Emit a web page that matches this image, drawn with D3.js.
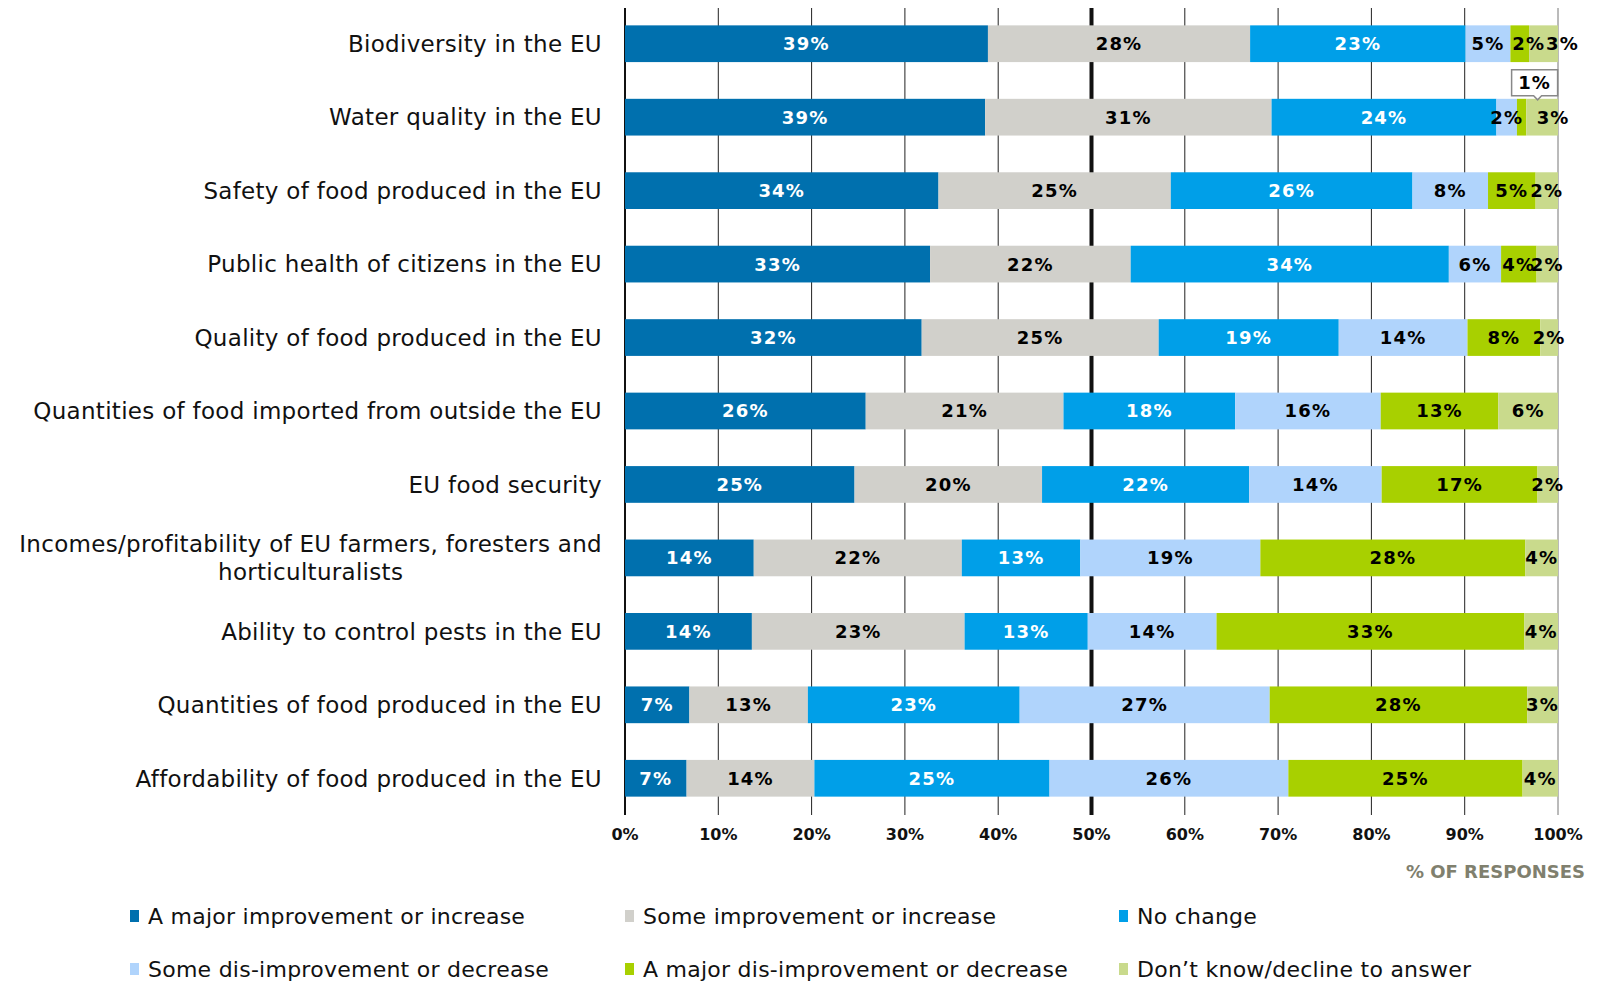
<!DOCTYPE html>
<html>
<head>
<meta charset="UTF-8">
<title>Expected impacts - % of responses</title>
<script src="https://d3js.org/d3.v7.min.js"></script>
<style>
  body { margin: 0; background: #fff; }
  svg text { font-family: "DejaVu Sans", Verdana, sans-serif; }
</style>
</head>
<body>
<svg id="chart" width="1598" height="982"></svg>
<script>
// categories, top to bottom
var categories = [
  "Biodiversity in the EU",
  "Water quality in the EU",
  "Safety of food produced in the EU",
  "Public health of citizens in the EU",
  "Quality of food produced in the EU",
  "Quantities of food imported from outside the EU",
  "EU food security",
  "Incomes/profitability of EU farmers, foresters and horticulturalists",
  "Ability to control pests in the EU",
  "Quantities of food produced in the EU",
  "Affordability of food produced in the EU"
];

var seriesNames = [
  "A major improvement or increase",
  "Some improvement or increase",
  "No change",
  "Some dis-improvement or decrease",
  "A major dis-improvement or decrease",
  "Don\u2019t know/decline to answer"
];

// % of responses per series (same order as categories)
var majorImprovement = [38.9, 38.6, 33.6, 32.7, 31.8, 25.8, 24.6, 13.8, 13.6, 6.9, 6.6];
var someImprovement  = [28.1, 30.7, 24.9, 21.5, 25.4, 21.2, 20.1, 22.3, 22.8, 12.7, 13.7];
var noChange         = [23.1, 24.1, 25.9, 34.1, 19.3, 18.4, 22.2, 12.7, 13.2, 22.7, 25.2];
var someDecrease     = [4.8, 2.2, 8.1, 5.6, 13.8, 15.6, 14.2, 19.3, 13.8, 26.8, 25.6];
var majorDecrease    = [2.0, 1.0, 5.1, 3.8, 7.8, 12.6, 16.7, 28.4, 33.0, 27.6, 25.1];
var dontKnow         = [3.1, 3.4, 2.4, 2.3, 1.9, 6.4, 2.2, 3.5, 3.6, 3.3, 3.8];

var tickValues = [0, 10, 20, 30, 40, 50, 60, 70, 80, 90, 100];

var colors = ["#0070ae", "#d1d0cb", "#009fe8", "#b0d4fc", "#a8d000", "#c9da8c"];
var labelColors = ["#fff", "#000", "#fff", "#000", "#000", "#000"];

var allSeries = [majorImprovement, someImprovement, noChange, someDecrease, majorDecrease, dontKnow];

// labels that were moved by hand in the original (row-series : px)
var labelNudge = { "0-4": 9, "0-5": 19, "1-5": 11 };

var svg = d3.select("#chart");

var x = d3.scaleLinear().domain([0, 100]).range([625, 1558]);
var y = d3.scaleBand().domain(categories).range([7, 815]).paddingInner(0.5).paddingOuter(0.25);

// build stacked rows
var rows = categories.map(function(c, i) {
  var r = { cat: c };
  seriesNames.forEach(function(s, j) { r[s] = allSeries[j][i]; });
  return r;
});
var stacked = d3.stack().keys(seriesNames)(rows);

// gridlines (behind the bars)
var grid = svg.append("g");
tickValues.forEach(function(t) {
  var w = 1, col = "#222";
  if (t === 50) { w = 4; col = "#111"; }
  if (t === 0) { w = 2; col = "#111"; }
  if (t === 100) { col = "#777"; }
  grid.append("line")
    .attr("x1", x(t)).attr("x2", x(t))
    .attr("y1", 8).attr("y2", 815)
    .attr("stroke", col).attr("stroke-width", w);
});

// bars
var layers = svg.append("g").selectAll("g")
  .data(stacked)
  .enter().append("g")
  .attr("fill", function(d, i) { return colors[i]; });

layers.selectAll("rect")
  .data(function(d) { return d; })
  .enter().append("rect")
  .attr("x", function(d) { return x(d[0]); })
  .attr("y", function(d) { return y(d.data.cat); })
  .attr("width", function(d) { return x(d[1]) - x(d[0]); })
  .attr("height", y.bandwidth());

// value labels
stacked.forEach(function(layer, j) {
  layer.forEach(function(d, i) {
    var v = Math.round(d[1] - d[0]);
    var cx = (x(d[0]) + x(d[1])) / 2 + (labelNudge[i + "-" + j] || 0);
    var cy = y(d.data.cat) + y.bandwidth() / 2;
    if (v < 2) {
      // callout box above the bar for tiny segments
      var bx = cx + 13, by = y(d.data.cat) - 16;
      svg.append("path")
        .attr("d", "M" + (bx - 23) + "," + (by - 13) + "h46v26h-16l-4,4l-4,-4h-22z")
        .attr("fill", "#fff").attr("stroke", "#888").attr("stroke-width", 1.5);
      svg.append("text")
        .attr("x", bx).attr("y", by)
        .attr("dy", "0.36em")
        .attr("text-anchor", "middle")
        .attr("font-size", 18).attr("font-weight", "bold")
        .attr("letter-spacing", 1.2)
        .attr("fill", "#000")
        .text(v + "%");
      return;
    }
    svg.append("text")
      .attr("x", cx).attr("y", cy)
      .attr("dy", "0.36em")
      .attr("text-anchor", "middle")
      .attr("font-size", 18).attr("font-weight", "bold")
      .attr("letter-spacing", 1.2)
      .attr("fill", labelColors[j])
      .text(v + "%");
  });
});

// category labels
var catLabels = svg.append("g");
categories.forEach(function(c) {
  var cy = y(c) + y.bandwidth() / 2;
  var t = catLabels.append("text")
    .attr("x", 602)
    .attr("text-anchor", "end")
    .attr("font-size", 23)
    .attr("letter-spacing", 0.3)
    .attr("fill", "#111");
  if (c.length > 50) {
    // split long label on two lines, second line centred under the first
    var idx = c.lastIndexOf(" ");
    t.attr("y", cy - 14).attr("dy", "0.36em").text(c.slice(0, idx));
    var w = t.node().getComputedTextLength();
    catLabels.append("text")
      .attr("x", 602 - w / 2).attr("y", cy + 14)
      .attr("dy", "0.36em")
      .attr("text-anchor", "middle")
      .attr("font-size", 23)
      .attr("letter-spacing", 0.3)
      .attr("fill", "#111")
      .text(c.slice(idx + 1));
  } else {
    t.attr("y", cy).attr("dy", "0.36em").text(c);
  }
});

// axis tick labels
var axis = svg.append("g");
tickValues.forEach(function(t) {
  axis.append("text")
    .attr("x", x(t)).attr("y", 834)
    .attr("dy", "0.36em")
    .attr("text-anchor", "middle")
    .attr("font-family", "'DejaVu Sans Condensed', 'DejaVu Sans'")
    .attr("font-weight", "bold")
    .attr("font-size", 16)
    .attr("fill", "#111")
    .text(t + "%");
});

svg.append("text")
  .attr("x", 1585).attr("y", 872)
  .attr("dy", "0.36em")
  .attr("text-anchor", "end")
  .attr("font-family", "'DejaVu Sans Condensed', 'DejaVu Sans'")
  .attr("font-weight", "bold")
  .attr("font-size", 18)
  .attr("fill", "#80806e")
  .text("% OF RESPONSES");

// legend
var legendX = [130, 625, 1119];
var legendY = [916, 969];
seriesNames.forEach(function(s, i) {
  var lx = legendX[i % 3], ly = legendY[Math.floor(i / 3)];
  svg.append("rect")
    .attr("x", lx).attr("y", ly - 6)
    .attr("width", 9).attr("height", 12)
    .attr("fill", colors[i]);
  svg.append("text")
    .attr("x", lx + 18).attr("y", ly)
    .attr("dy", "0.36em")
    .attr("font-size", 22)
    .attr("letter-spacing", 0.25)
    .attr("fill", "#111")
    .text(s);
});
</script>
</body>
</html>
